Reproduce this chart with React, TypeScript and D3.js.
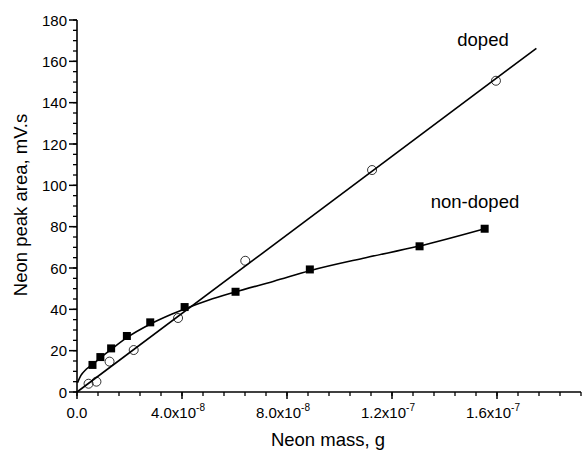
import * as d3 from 'd3';

const dopedMass = [0.44e-8, 0.74e-8, 1.24e-8, 2.16e-8, 3.85e-8, 6.41e-8, 1.124e-7, 1.596e-7];
const dopedArea = [4.0, 5.0, 14.7, 20.3, 35.8, 63.5, 107.4, 150.6];

const nonDopedMass = [0.59e-8, 0.89e-8, 1.3e-8, 1.9e-8, 2.79e-8, 4.1e-8, 6.04e-8, 8.87e-8, 1.305e-7, 1.553e-7];
const nonDopedArea = [13.1, 16.9, 21.1, 27.1, 33.7, 41.1, 48.5, 59.3, 70.5, 79.0];

// fitted lines as drawn on the plot
const dopedFitMass = [0, 1.75e-7];
const dopedFitArea = [0, 166.3];
const nonDopedFitMass = [0.02e-8, 0.15e-8, 0.35e-8, 0.6e-8, 0.9e-8, 1.3e-8, 1.9e-8, 2.8e-8, 3.6e-8, 4.1e-8, 5e-8, 6e-8, 7.5e-8, 8.9e-8, 1.1e-7, 1.3e-7, 1.553e-7];
const nonDopedFitArea = [4.5, 8.0, 11.0, 13.5, 16.6, 20.6, 26.3, 32.9, 37.6, 40.2, 44.4, 48.3, 53.6, 58.8, 65.0, 70.5, 79.0];

const xTicks = [0, 4e-8, 8e-8, 1.2e-7, 1.6e-7];
const xTickMantissa = ['0.0', '4.0x10', '8.0x10', '1.2x10', '1.6x10'];
const xTickExp = ['', '-8', '-8', '-7', '-7'];
const yTicks = [0, 20, 40, 60, 80, 100, 120, 140, 160, 180];

const W = 582;
const H = 451;
const font = 'Liberation Sans, Arial, Helvetica, sans-serif';

export default function App() {
  const x = d3.scaleLinear().domain([0, 1.92e-7]).range([77, 581]);
  const y = d3.scaleLinear().domain([0, 180]).range([392, 20]);

  const xMinor = d3.range(0, 1.92e-7 + 1e-12, 0.8e-8);
  const yMinor = d3.range(0, 181, 5);

  const line = d3
    .line<[number, number]>()
    .x((d) => x(d[0]))
    .y((d) => y(d[1]));
  const smooth = d3
    .line<[number, number]>()
    .x((d) => x(d[0]))
    .y((d) => y(d[1]))
    .curve(d3.curveMonotoneX);

  const dopedFit = dopedFitMass.map((m, i) => [m, dopedFitArea[i]] as [number, number]);
  const nonDopedFit = nonDopedFitMass.map((m, i) => [m, nonDopedFitArea[i]] as [number, number]);

  return (
    <svg
      width={W}
      height={H}
      style={{ position: 'absolute', left: 0, top: 0, background: '#fff' }}
      fontFamily={font}
    >
      <rect width={W} height={H} fill="#fff" />
      {/* axes */}
      <line x1={x(0)} x2={x(0)} y1={y(0)} y2={y(180)} stroke="#000" strokeWidth={1.6} />
      <line x1={x(0)} x2={581} y1={y(0)} y2={y(0)} stroke="#000" strokeWidth={1.6} />
      {xMinor.map((v, i) => (
        <line key={'xm' + i} x1={x(v)} x2={x(v)} y1={y(0)} y2={y(0) + 4} stroke="#000" strokeWidth={1.3} />
      ))}
      {xTicks.map((v, i) => (
        <g key={'xt' + i}>
          <line x1={x(v)} x2={x(v)} y1={y(0)} y2={y(0) + 7} stroke="#000" strokeWidth={1.5} />
          <text x={x(v) + (xTickExp[i] ? -4 : 0)} y={y(0) + 25.5} fontSize={15} textAnchor="middle">
            {xTickMantissa[i]}
            {xTickExp[i] && (
              <tspan dy={-7} fontSize={10}>
                {xTickExp[i]}
              </tspan>
            )}
          </text>
        </g>
      ))}
      {yMinor.map((v, i) => (
        <line key={'ym' + i} x1={x(0) - 4} x2={x(0)} y1={y(v)} y2={y(v)} stroke="#000" strokeWidth={1.3} />
      ))}
      {yTicks.map((v, i) => (
        <g key={'yt' + i}>
          <line x1={x(0) - 8} x2={x(0)} y1={y(v)} y2={y(v)} stroke="#000" strokeWidth={1.5} />
          <text x={x(0) - 10} y={y(v) + 5.5} fontSize={15} textAnchor="end">
            {v}
          </text>
        </g>
      ))}
      <text x={328} y={446} fontSize={18.5} textAnchor="middle">
        Neon mass, g
      </text>
      <text transform="translate(27,205) rotate(-90)" fontSize={18.5} textAnchor="middle">
        Neon peak area, mV.s
      </text>

      {/* fits */}
      <path d={line(dopedFit) || ''} fill="none" stroke="#000" strokeWidth={1.6} />
      <path d={smooth(nonDopedFit) || ''} fill="none" stroke="#000" strokeWidth={1.6} />

      {/* markers */}
      {dopedMass.map((m, i) => (
        <circle key={'c' + i} cx={x(m)} cy={y(dopedArea[i])} r={4.5} fill="none" stroke="#000" strokeWidth={0.8} />
      ))}
      {nonDopedMass.map((m, i) => (
        <rect key={'s' + i} x={x(m) - 4} y={y(nonDopedArea[i]) - 4} width={8} height={8} fill="#000" />
      ))}

      <text x={483} y={45.5} fontSize={18.5} textAnchor="middle">
        doped
      </text>
      <text x={475} y={208} fontSize={18.5} textAnchor="middle">
        non-doped
      </text>
    </svg>
  );
}
